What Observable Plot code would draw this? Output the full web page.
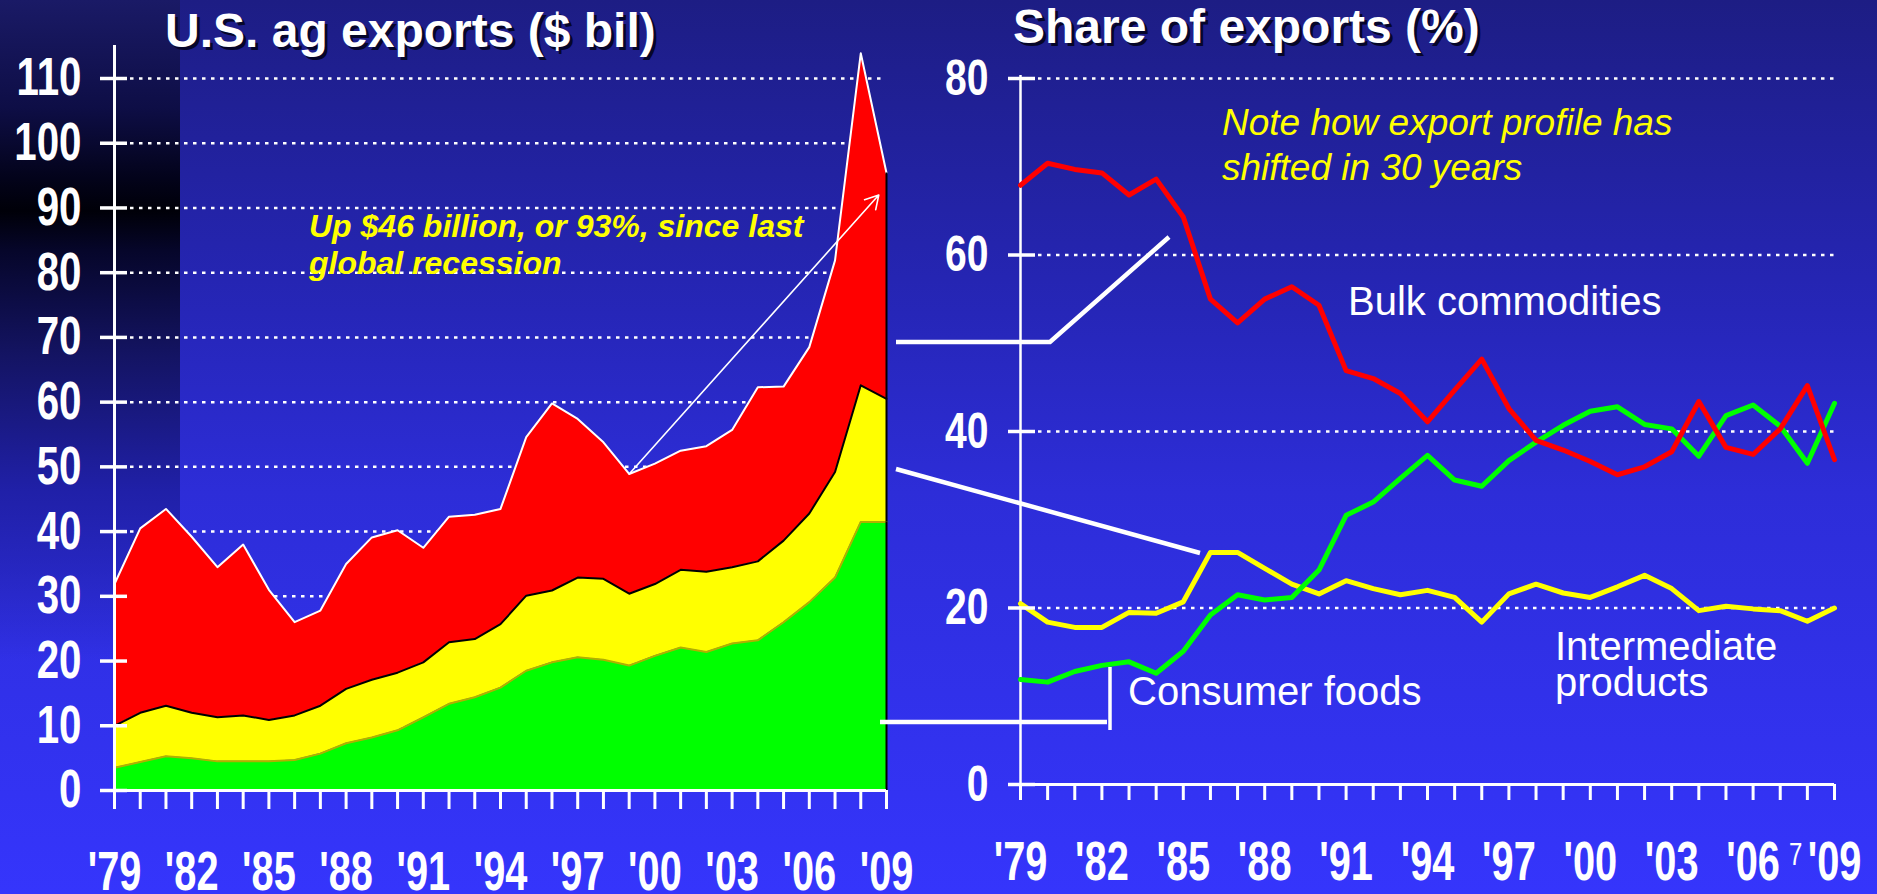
<!DOCTYPE html>
<html>
<head>
<meta charset="utf-8">
<script src="https://cdn.jsdelivr.net/npm/d3@7"></script>
<script src="https://cdn.jsdelivr.net/npm/@observablehq/plot@0.6"></script>
<style>
  html, body { margin: 0; padding: 0; overflow: hidden; background: #2a2ac8; }
  #stage {
    position: relative; width: 1877px; height: 894px; overflow: hidden;
    background: linear-gradient(to bottom, #1d1d84 0%, #2626b8 35%, #2d2dd8 55%, #3535fc 100%);
    font-family: "Liberation Sans", Arial, sans-serif;
  }
  #strip {
    position: absolute; left: 0; top: 0; width: 180px; height: 894px;
    background: linear-gradient(to bottom, #1a1a66 0%, #0e0e46 12%, #03031a 20%, #000008 23.6%, #06062a 28%, #141464 40%, #2020a8 55%, rgba(48,48,230,0) 74%);
  }
  .layer { position: absolute; left: 0; top: 0; }
</style>
</head>
<body>
<div id="stage"><div id="strip"></div></div>
<script>
// ---------- data ----------
const years = [1979,1980,1981,1982,1983,1984,1985,1986,1987,1988,1989,1990,1991,1992,1993,1994,
               1995,1996,1997,1998,1999,2000,2001,2002,2003,2004,2005,2006,2007,2008,2009];
const categories = ["Consumer foods", "Intermediate products", "Bulk commodities"];

// U.S. ag exports, $ billion, by category
const consumerBil     = [3.5,4.4,5.3,5.0,4.5,4.5,4.5,4.7,5.7,7.3,8.2,9.3,11.3,13.4,14.4,15.9,18.5,19.8,20.6,20.2,19.3,20.8,22.1,21.4,22.7,23.2,26.0,29.1,32.9,41.5,41.5];
const intermediateBil = [6.5,7.6,7.8,7.0,6.8,7.1,6.4,6.9,7.4,8.4,8.9,8.9,8.5,9.5,9.0,9.8,11.6,11.1,12.3,12.5,11.1,11.1,12.0,12.4,11.8,12.2,12.6,13.7,16.3,21.1,19.0];
const bulkBil         = [21.9,28.5,30.4,27.2,23.2,26.4,20.1,14.4,14.7,19.3,22.0,22.0,17.7,19.4,19.2,17.8,24.5,28.9,24.5,21.1,18.5,18.6,18.4,19.4,21.2,26.9,23.8,25.7,32.7,51.3,34.9];

// Share of exports, %
const bulkPct         = [67.9,70.4,69.7,69.3,66.8,68.6,64.3,55.0,52.3,55.0,56.4,54.3,46.9,46.0,44.3,41.1,44.7,48.2,42.6,39.0,37.9,36.6,35.1,36.0,37.7,43.4,38.2,37.4,40.3,45.2,36.8];
const intermediatePct = [20.5,18.4,17.8,17.8,19.5,19.4,20.7,26.3,26.3,24.5,22.7,21.6,23.1,22.2,21.5,22.0,21.2,18.4,21.6,22.7,21.7,21.2,22.4,23.7,22.2,19.7,20.2,19.9,19.7,18.5,20.0];
const consumerPct     = [11.9,11.6,12.8,13.5,13.9,12.6,15.1,19.2,21.5,20.9,21.2,24.3,30.5,32.0,34.7,37.3,34.5,33.8,36.7,38.8,40.7,42.3,42.8,40.8,40.3,37.2,41.8,43.0,40.6,36.4,43.2];

const leftYTicks  = [0,10,20,30,40,50,60,70,80,90,100,110];
const rightYTicks = [0,20,40,60,80];
const xLabelYears = [1979,1982,1985,1988,1991,1994,1997,2000,2003,2006,2009];
const tickLabel = d => "'" + String(d).slice(2);

// annotation arrow: from the 1999 low toward 2009 top
const arrowFromYear = 1999;
const arrowTo = {year: 2008.7, value: 92};

// ---------- tables ----------
const bil = {"Consumer foods": consumerBil, "Intermediate products": intermediateBil, "Bulk commodities": bulkBil};
const pct = {"Consumer foods": consumerPct, "Intermediate products": intermediatePct, "Bulk commodities": bulkPct};
const exportsLong = categories.flatMap(c => years.map((y, i) => ({year: y, cat: c, value: bil[c][i]})));
const lineOrder = ["Intermediate products", "Consumer foods", "Bulk commodities"];
const sharesLong = lineOrder.flatMap(c => years.map((y, i) => ({year: y, cat: c, value: pct[c][i]})));

const fillOf = {"Consumer foods": "#00ff00", "Intermediate products": "#ffff00", "Bulk commodities": "#ff0000"};
const edgeOf = {"Consumer foods": "#b0b000", "Intermediate products": "#000000", "Bulk commodities": "#ffffff"};

const i99 = years.indexOf(arrowFromYear);
const arrowData = [{x1: arrowFromYear, y1: consumerBil[i99] + intermediateBil[i99] + bulkBil[i99], x2: arrowTo.year, y2: arrowTo.value}];

const FONT = '"Liberation Sans", Arial, sans-serif';
const W = 1877, H = 894;

function condense(svg, sel, k) {
  svg.querySelectorAll(sel).forEach(t => {
    let tr = t.getAttribute("transform") || "";
    const xa = t.getAttribute("x");
    if (xa != null && xa !== "" && !isNaN(+xa)) { tr += ` translate(${+xa},0)`; t.removeAttribute("x"); }
    t.setAttribute("transform", tr + ` scale(${k},1)`);
  });
}
const Y_LABELS = 'g[aria-label="y-axis tick label"] text';
const X_LABELS = 'g[aria-label="x-axis tick label"] text';

// ---------- left chart ----------
const left = Plot.plot({
  width: W, height: H,
  marginLeft: 114, marginRight: W - 886, marginTop: 45, marginBottom: H - 790,
  x: {domain: [1979, 2009]},
  y: {domain: [0, 110 * 745 / 712]},
  color: {type: "identity"},
  style: {background: "transparent", overflow: "visible", fontFamily: FONT, color: "white"},
  marks: [
    Plot.ruleY(leftYTicks.slice(1), {stroke: "white", strokeWidth: 2.5, strokeDasharray: "3.5,5.5", insetLeft: 16}),
    Plot.areaY(exportsLong, {x: "year", y: "value", z: "cat", fill: d => fillOf[d.cat], order: categories}),
    Plot.lineY(exportsLong, Plot.stackY2({x: "year", y: "value", z: "cat", order: categories, stroke: d => edgeOf[d.cat], strokeWidth: 2})),
    Plot.ruleX(exportsLong, Plot.stackY({x: "year", y: "value", z: "cat", order: categories, filter: d => d.year === 2009, stroke: "black", strokeWidth: 2})),
    Plot.arrow(arrowData, {x1: "x1", y1: "y1", x2: "x2", y2: "y2", stroke: "white", strokeWidth: 1.6, headLength: 14}),
    Plot.ruleX([1979], {stroke: "white", strokeWidth: 3}),
    Plot.ruleY([0], {stroke: "white", strokeWidth: 3, insetLeft: -14}),
    Plot.axisY(leftYTicks, {tickSize: 27, dx: 13, stroke: "white", strokeWidth: 3.5, fill: "none", label: null}),
    Plot.axisY(leftYTicks, {tickSize: 0, tickPadding: 33, fontSize: 53, fontWeight: "bold", color: "white", label: null}),
    Plot.axisX(years, {tickSize: 19, stroke: "white", strokeWidth: 3, fill: "none", label: null}),
    Plot.axisX(xLabelYears, {tickSize: 0, tickPadding: 60, fontSize: 56, fontWeight: "bold", color: "white", label: null, tickFormat: tickLabel})
  ]
});
condense(left, Y_LABELS, 0.76);
condense(left, X_LABELS, 0.71);

// ---------- right chart ----------
const right = Plot.plot({
  width: W, height: H,
  marginLeft: 1020, marginRight: W - 1834, marginTop: 78, marginBottom: H - 784,
  x: {domain: [1979, 2009]},
  y: {domain: [0, 80]},
  color: {type: "identity"},
  style: {background: "transparent", overflow: "visible", fontFamily: FONT, color: "white"},
  marks: [
    Plot.ruleY(rightYTicks.slice(1), {stroke: "white", strokeWidth: 2.5, strokeDasharray: "3.5,5.5", insetLeft: 18}),
    Plot.ruleX([1979], {stroke: "white", strokeWidth: 2.5, insetTop: -3}),
    Plot.ruleY([0], {stroke: "white", strokeWidth: 3, insetLeft: -12}),
    Plot.lineY(sharesLong, {x: "year", y: "value", z: "cat", stroke: d => fillOf[d.cat], strokeWidth: 5, strokeLinejoin: "round"}),
    Plot.axisY(rightYTicks, {tickSize: 27, dx: 15, stroke: "white", strokeWidth: 3.5, fill: "none", label: null}),
    Plot.axisY(rightYTicks, {tickSize: 0, tickPadding: 32, fontSize: 50, fontWeight: "bold", color: "white", label: null}),
    Plot.axisX(years, {tickSize: 16, stroke: "white", strokeWidth: 3, fill: "none", label: null}),
    Plot.axisX(xLabelYears, {tickSize: 0, tickPadding: 56, fontSize: 56, fontWeight: "bold", color: "white", label: null, tickFormat: tickLabel})
  ]
});
condense(right, Y_LABELS, 0.78);
condense(right, X_LABELS, 0.71);

const stage = document.getElementById("stage");
for (const svg of [left, right]) {
  svg.classList.add("layer");
  svg.style.position = "absolute"; svg.style.left = "0px"; svg.style.top = "0px";
  stage.appendChild(svg);
}

// ---------- titles, notes, connectors ----------
const overlay = document.createElementNS("http://www.w3.org/2000/svg", "svg");
overlay.setAttribute("width", W); overlay.setAttribute("height", H);
overlay.setAttribute("class", "layer");
overlay.style.position = "absolute"; overlay.style.left = "0px"; overlay.style.top = "0px";
overlay.setAttribute("font-family", FONT);
overlay.innerHTML = `
  <g stroke="white" stroke-width="4.5" fill="none">
    <polyline points="896,342 1050,342 1169,237"/>
    <line x1="896" y1="469" x2="1200" y2="553"/>
    <line x1="880" y1="722" x2="1107" y2="722"/>
    <line x1="1110" y1="667" x2="1110" y2="730" stroke-width="3.5"/>
  </g>
  <g font-size="48" font-weight="bold">
    <text x="168" y="50" fill="#06062a">U.S. ag exports ($ bil)</text>
    <text x="165" y="47" fill="white">U.S. ag exports ($ bil)</text>
    <text x="1016" y="46" fill="#06062a">Share of exports (%)</text>
    <text x="1013" y="43" fill="white">Share of exports (%)</text>
  </g>
  <g font-size="32" font-weight="bold" font-style="italic" fill="#ffff00">
    <text x="309" y="237">Up $46 billion, or 93%, since last</text>
    <text x="309" y="274">global recession</text>
  </g>
  <g font-size="37" font-style="italic" fill="#ffff00">
    <text x="1222" y="135">Note how export profile has</text>
    <text x="1222" y="180">shifted in 30 years</text>
  </g>
  <g font-size="40" fill="white">
    <text x="1348" y="315">Bulk commodities</text>
    <text x="1128" y="705">Consumer foods</text>
    <text x="1555" y="660">Intermediate</text>
    <text x="1555" y="696">products</text>
  </g>
  <text transform="translate(1789,865) scale(0.75,1)" font-size="32" fill="white">7</text>
`;
stage.appendChild(overlay);
</script>
</body>
</html>
